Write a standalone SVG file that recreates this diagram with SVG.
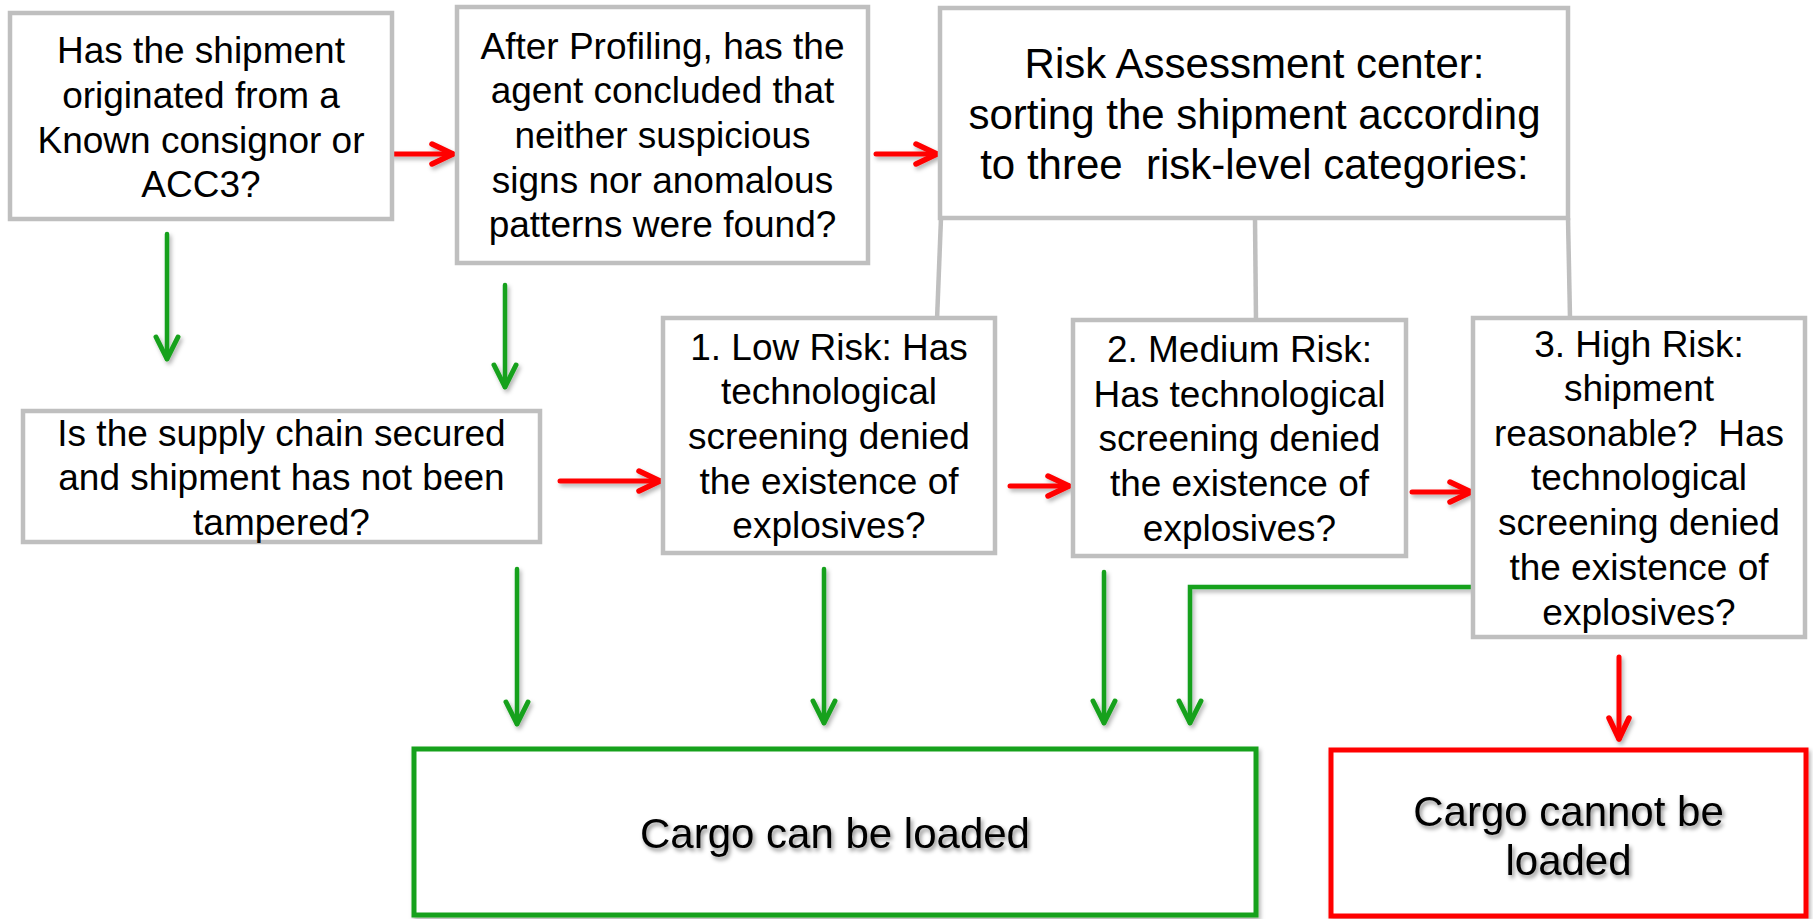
<svg xmlns="http://www.w3.org/2000/svg" width="1813" height="919" viewBox="0 0 1813 919">
<style>
.box{fill:#FFFFFF;stroke:#BFBFBF;stroke-width:4.5}
.t{font-family:"Liberation Sans",Arial,sans-serif;font-size:37px;fill:#000;text-anchor:middle}
.tb{font-family:"Liberation Sans",Arial,sans-serif;font-size:42px;fill:#000;text-anchor:middle}
.gray{fill:none;stroke:#BFBFBF;stroke-width:4.5}
.red{fill:none;stroke:#FF0000;stroke-width:5;stroke-linecap:round}
.green{fill:none;stroke:#16A11C;stroke-width:4.5;stroke-linecap:round;stroke-linejoin:miter}
</style>
<defs>
<filter id="sh" x="-20%" y="-20%" width="140%" height="160%">
<feDropShadow dx="2" dy="3" stdDeviation="2" flood-color="#000" flood-opacity="0.3"/>
</filter>
<filter id="tsh" x="-10%" y="-30%" width="120%" height="160%">
<feDropShadow dx="2" dy="3" stdDeviation="2" flood-color="#000" flood-opacity="0.45"/>
</filter>
<marker id="hr" markerUnits="userSpaceOnUse" viewBox="-26 -15 30 30" markerWidth="30" markerHeight="30" refX="0" refY="0" orient="auto" overflow="visible">
<path d="M-21,-10 L0,0 L-21,10" fill="none" stroke="#FF0000" stroke-width="5.5" stroke-linecap="round" stroke-linejoin="round"/>
</marker>
<marker id="hg" markerUnits="userSpaceOnUse" viewBox="-26 -15 30 30" markerWidth="30" markerHeight="30" refX="0" refY="0" orient="auto" overflow="visible">
<path d="M-22,-11 L0,0 L-22,11" fill="none" stroke="#16A11C" stroke-width="5" stroke-linecap="round" stroke-linejoin="round"/>
</marker>
</defs>
<rect width="1813" height="919" fill="#FFFFFF"/>

<g id="connectors">
<path class="gray" d="M941,218 L937,320"/>
<path class="gray" d="M1255,218 L1256,321"/>
<path class="gray" d="M1568,218 L1570,318"/>
<g filter="url(#sh)">
<path class="red" d="M392,154 L453,154" marker-end="url(#hr)"/>
<path class="red" d="M876,154 L937,154" marker-end="url(#hr)"/>
<path class="red" d="M560,481 L660,481" marker-end="url(#hr)"/>
<path class="red" d="M1010,486 L1069,486" marker-end="url(#hr)"/>
<path class="red" d="M1412,492 L1471,492" marker-end="url(#hr)"/>
<path class="red" d="M1619,657 L1619,739" marker-end="url(#hr)"/>
<path class="green" d="M167,234 L167,359" marker-end="url(#hg)"/>
<path class="green" d="M505,285 L505,387" marker-end="url(#hg)"/>
<path class="green" d="M517,569 L517,724" marker-end="url(#hg)"/>
<path class="green" d="M824,569 L824,723" marker-end="url(#hg)"/>
<path class="green" d="M1104,572 L1104,723" marker-end="url(#hg)"/>
<path class="green" d="M1472,587 L1190,587 L1190,723" marker-end="url(#hg)"/>
</g>
</g>

<g id="n-known">
<rect class="box" x="10" y="13" width="382" height="206"/>
<text class="t" x="201" y="63">Has the shipment</text>
<text class="t" x="201" y="108">originated from a</text>
<text class="t" x="201" y="153">Known consignor or</text>
<text class="t" x="201" y="197">ACC3?</text>
</g>

<g id="n-profiling">
<rect class="box" x="457" y="7" width="411" height="256"/>
<text class="t" x="662.5" y="59">After Profiling, has the</text>
<text class="t" x="662.5" y="103">agent concluded that</text>
<text class="t" x="662.5" y="148">neither suspicious</text>
<text class="t" x="662.5" y="193">signs nor anomalous</text>
<text class="t" x="662.5" y="237">patterns were found?</text>
</g>

<g id="n-risk-center">
<rect class="box" x="940" y="8" width="628" height="210"/>
<text class="tb" x="1254.5" y="78">Risk Assessment center:</text>
<text class="tb" x="1254.5" y="128.5">sorting the shipment according</text>
<text class="tb" x="1254.5" y="179" xml:space="preserve">to three  risk-level categories:</text>
</g>

<g id="n-supply">
<rect class="box" x="23" y="411" width="517" height="131"/>
<text class="t" x="281.5" y="446">Is the supply chain secured</text>
<text class="t" x="281.5" y="490">and shipment has not been</text>
<text class="t" x="281.5" y="535">tampered?</text>
</g>

<g id="n-low">
<rect class="box" x="663" y="318" width="332" height="235"/>
<text class="t" x="829" y="360">1. Low Risk: Has</text>
<text class="t" x="829" y="404">technological</text>
<text class="t" x="829" y="449">screening denied</text>
<text class="t" x="829" y="494">the existence of</text>
<text class="t" x="829" y="538">explosives?</text>
</g>

<g id="n-medium">
<rect class="box" x="1073" y="320" width="333" height="236"/>
<text class="t" x="1239.5" y="362">2. Medium Risk:</text>
<text class="t" x="1239.5" y="407">Has technological</text>
<text class="t" x="1239.5" y="451">screening denied</text>
<text class="t" x="1239.5" y="496">the existence of</text>
<text class="t" x="1239.5" y="541">explosives?</text>
</g>

<g id="n-high">
<rect class="box" x="1473" y="318" width="332" height="319"/>
<text class="t" x="1639" y="357">3. High Risk:</text>
<text class="t" x="1639" y="401">shipment</text>
<text class="t" x="1639" y="446" xml:space="preserve">reasonable?  Has</text>
<text class="t" x="1639" y="490">technological</text>
<text class="t" x="1639" y="535">screening denied</text>
<text class="t" x="1639" y="580">the existence of</text>
<text class="t" x="1639" y="625">explosives?</text>
</g>

<g id="n-loaded">
<rect x="414" y="749" width="842" height="166" fill="#FFFFFF" stroke="#16A11C" stroke-width="5" filter="url(#sh)"/>
<text class="tb" x="835" y="848" filter="url(#tsh)">Cargo can be loaded</text>
</g>

<g id="n-not-loaded">
<rect x="1331" y="750" width="475" height="166" fill="#FFFFFF" stroke="#FF0000" stroke-width="5" filter="url(#sh)"/>
<text class="tb" x="1568.5" y="826" filter="url(#tsh)">Cargo cannot be</text>
<text class="tb" x="1568.5" y="875" filter="url(#tsh)">loaded</text>
</g>
</svg>
